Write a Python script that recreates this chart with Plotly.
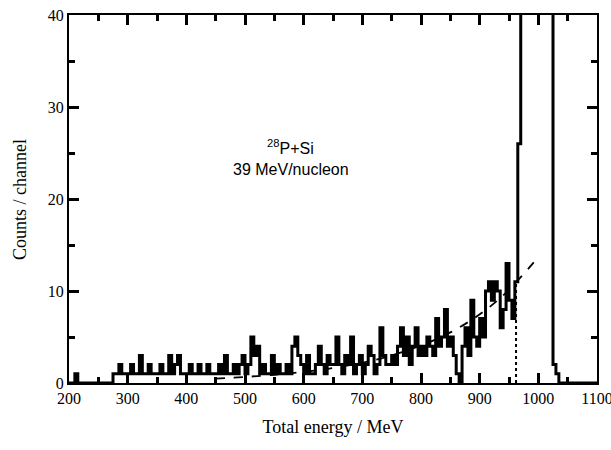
import numpy as np
import plotly.graph_objects as go

# Spectrum: counts per 5 MeV channel, first channel starts at 200 MeV
bin_start = 200
bin_width = 5
counts = [
    0, 0, 1, 0, 0, 0, 0, 0, 0, 0,        # 200-250
    0, 0, 0, 0, 0, 1, 1, 2, 1, 1,        # 250-300
    1, 2, 1, 1, 3, 1, 1, 2, 1, 1,        # 300-350
    1, 2, 1, 1, 3, 1, 2, 3, 1, 1,        # 350-400
    1, 2, 1, 1, 2, 1, 1, 2, 1, 1,        # 400-450
    1, 2, 1, 3, 1, 1, 2, 1, 2, 3,        # 450-500
    1, 2, 5, 3, 4, 1, 2, 1, 1, 3,        # 500-550
    1, 2, 1, 1, 2, 1, 4, 5, 3, 2,        # 550-600
    1, 3, 1, 1, 2, 4, 2, 1, 3, 2,        # 600-650
    2, 5, 2, 1, 3, 2, 5, 1, 2, 3,        # 650-700
    1, 2, 4, 3, 1, 2, 6, 3, 2, 2,        # 700-750
    3, 2, 4, 6, 3, 5, 2, 4, 6, 3,        # 750-800
    4, 3, 5, 4, 3, 7, 4, 5, 8, 4,        # 800-850
    5, 3, 1, 0, 4, 6, 3, 9, 5, 4,        # 850-900
    7, 5, 10, 11, 9, 11, 10, 6, 8, 13,   # 900-950
    9, 7, 11, 26, 95, 180, 210, 220, 200, 190,  # 950-1000
    200, 190, 170, 150, 120, 2, 1, 0, 0, 0,     # 1000-1050
    0, 0, 0, 0, 0, 0, 0, 0, 0, 0,        # 1050-1100
]

# Exponential background fit (dashed)
fit_energy = [450, 550, 650, 750, 850, 930, 1000]
fit_counts = [0.48, 0.89, 1.63, 3.0, 5.5, 8.95, 13.7]

# Threshold marker (dotted)
cut_energy = 962
cut_top = 10.8

# Axis ranges and tick spacing
x_range = [200, 1100]
x_major, x_minor = 100, 50
y_range = [0, 40]
y_major, y_minor = 10, 5

edges = bin_start + bin_width * np.arange(len(counts) + 1)
step_y = list(counts) + [counts[-1]]

fig = go.Figure()

fig.add_trace(go.Scatter(
    x=fit_energy, y=fit_counts, mode="lines",
    line=dict(color="black", width=1.8, dash="dash", shape="spline"),
    hoverinfo="skip", showlegend=False,
))
fig.add_trace(go.Scatter(
    x=[cut_energy, cut_energy], y=[0, cut_top], mode="lines",
    line=dict(color="black", width=2, dash="dot"),
    hoverinfo="skip", showlegend=False,
))
fig.add_trace(go.Scatter(
    x=edges, y=step_y, mode="lines",
    line=dict(color="black", width=3, shape="hv"),
    showlegend=False,
))

serif = "Liberation Serif"
sans = "Liberation Sans"

fig.add_annotation(
    x=0.419, y=0.674, xref="paper", yref="paper",
    text="<sup>28</sup>P+Si", showarrow=False,
    font=dict(family=sans, size=16, color="black"),
)
fig.add_annotation(
    x=0.42, y=0.579, xref="paper", yref="paper",
    text="39 MeV/nucleon", showarrow=False,
    font=dict(family=sans, size=16, color="black"),
)
# Vertical y-axis title placed near the left page edge
fig.add_annotation(
    x=-0.093, y=0.5, xref="paper", yref="paper",
    text="Counts / channel", textangle=-90, showarrow=False,
    xanchor="center", yanchor="middle",
    font=dict(family=serif, size=18, color="black"),
)

fig.update_layout(
    width=611, height=450,
    margin=dict(l=69, r=14, t=15, b=67, autoexpand=False),
    paper_bgcolor="white", plot_bgcolor="white",
    font=dict(family=serif, size=16, color="black"),
    xaxis=dict(
        range=x_range, tick0=x_range[0], dtick=x_major,
        ticks="inside", ticklen=10, tickwidth=2.5, tickcolor="black",
        showgrid=False, zeroline=False,
        showline=True, linecolor="black", linewidth=2, mirror="allticks",
        ticklabeloverflow="allow",
        minor=dict(dtick=x_minor, ticks="inside", ticklen=6, tickwidth=2.5,
                   tickcolor="black", showgrid=False),
        tickfont=dict(family=serif, size=16),
        title=dict(text="Total energy / MeV", font=dict(family=serif, size=18), standoff=14),
    ),
    yaxis=dict(
        range=y_range, tick0=y_range[0], dtick=y_major,
        ticks="inside", ticklen=10, tickwidth=2.5, tickcolor="black",
        showgrid=False, zeroline=False,
        showline=True, linecolor="black", linewidth=2, mirror="allticks",
        minor=dict(dtick=y_minor, ticks="inside", ticklen=6, tickwidth=2.5,
                   tickcolor="black", showgrid=False),
        tickfont=dict(family=serif, size=16),
    ),
)

fig.write_html("out.html")
